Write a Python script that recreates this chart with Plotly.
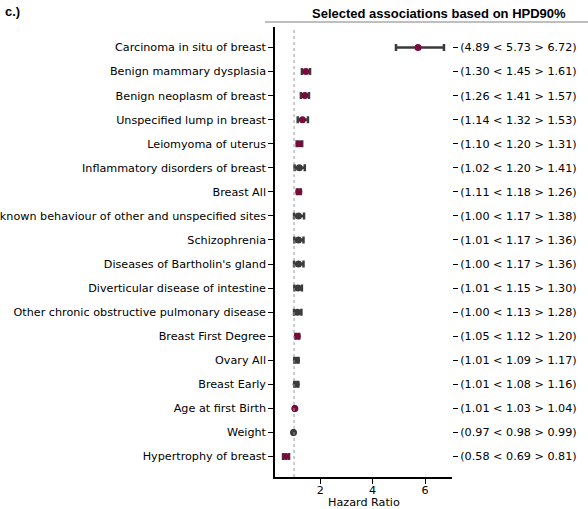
import plotly.graph_objects as go

labels = [
    "Carcinoma in situ of breast",
    "Benign mammary dysplasia",
    "Benign neoplasm of breast",
    "Unspecified lump in breast",
    "Leiomyoma of uterus",
    "Inflammatory disorders of breast",
    "Breast All",
    "Neoplasm of uncertain or unknown behaviour of other and unspecified sites",
    "Schizophrenia",
    "Diseases of Bartholin's gland",
    "Diverticular disease of intestine",
    "Other chronic obstructive pulmonary disease",
    "Breast First Degree",
    "Ovary All",
    "Breast Early",
    "Age at first Birth",
    "Weight",
    "Hypertrophy of breast",
]
lower = [4.89, 1.30, 1.26, 1.14, 1.10, 1.02, 1.11, 1.00, 1.01, 1.00, 1.01, 1.00, 1.05, 1.01, 1.01, 1.01, 0.97, 0.58]
median = [5.73, 1.45, 1.41, 1.32, 1.20, 1.20, 1.18, 1.17, 1.17, 1.17, 1.15, 1.13, 1.12, 1.09, 1.08, 1.03, 0.98, 0.69]
upper = [6.72, 1.61, 1.57, 1.53, 1.31, 1.41, 1.26, 1.38, 1.36, 1.36, 1.30, 1.28, 1.20, 1.17, 1.16, 1.04, 0.99, 0.81]
highlight = [True, True, True, True, True, False, True, False, False, False, False, False, True, False, False, True, False, True]
x_ticks = [2, 4, 6]

MAROON = "#7b0a3c"
GREY = "#3b3b3b"
FONT = "DejaVu Sans"
FS = 11.2

ypos = list(range(len(labels)))
right_text = [f"({l:.2f} < {m:.2f} > {u:.2f})" for l, m, u in zip(lower, median, upper)]

fig = go.Figure()
fig.add_trace(go.Scatter(
    x=median, y=ypos, mode="markers",
    marker=dict(size=7, color=[MAROON if h else GREY for h in highlight], line=dict(width=0)),
    error_x=dict(type="data", symmetric=False,
                 array=[u - m for u, m in zip(upper, median)],
                 arrayminus=[m - l for m, l in zip(median, lower)],
                 color=GREY, thickness=2.5, width=3.5),
    showlegend=False, hoverinfo="skip",
))
# invisible trace for right axis
fig.add_trace(go.Scatter(x=median, y=ypos, yaxis="y2", mode="markers",
                         marker=dict(opacity=0), showlegend=False, hoverinfo="skip"))

fig.add_vline(x=1, line=dict(color="#999999", width=1, dash="dot"))

yr = [len(labels) - 1 + 0.85, -0.85]
fig.update_layout(
    width=588, height=509,
    margin=dict(l=275, r=136, t=27, b=32, autoexpand=False),
    paper_bgcolor="white", plot_bgcolor="white",
    font=dict(family=FONT, size=FS, color="black"),
    xaxis=dict(range=[0.273, 7.027], tickvals=x_ticks, showgrid=False, zeroline=False,
               showline=True, linecolor="black", linewidth=1.5, ticks="outside",
               ticklen=5, tickwidth=1.2, tickcolor="black", automargin=False,
               ticklabelstandoff=-3),
    yaxis=dict(range=yr, tickvals=ypos, ticktext=labels, showgrid=False, zeroline=False,
               showline=True, linecolor="black", linewidth=1.5, ticks="outside",
               ticklen=5, tickwidth=1.2, tickcolor="black", automargin=False),
    yaxis2=dict(range=yr, tickvals=ypos, ticktext=right_text, overlaying="y", side="right",
                showgrid=False, zeroline=False, showline=False, ticks="outside",
                ticklen=5, tickwidth=1.2, tickcolor="black", automargin=False),
)

fig.add_annotation(text="Hazard Ratio", xref="paper", yref="paper",
                   x=0.5, y=(477 - 503) / 450, xanchor="center", yanchor="middle",
                   showarrow=False, font=dict(family=FONT, size=FS))
fig.add_annotation(text="<b>c.)</b>", xref="paper", yref="paper",
                   x=(3 - 275) / 177, y=(477 - 12) / 450, xanchor="left", yanchor="middle",
                   showarrow=False, font=dict(family="Liberation Sans", size=13))
fig.add_annotation(text="<b>Selected associations based on HPD90%</b>", xref="paper", yref="paper",
                   x=(439 - 275) / 177, y=(477 - 13) / 450, xanchor="center", yanchor="middle",
                   showarrow=False, font=dict(family="Liberation Sans", size=13))
fig.add_shape(type="line", xref="paper", yref="paper",
              x0=(265 - 275) / 177, x1=(588 - 275) / 177,
              y0=(477 - 22) / 450, y1=(477 - 22) / 450,
              line=dict(color="#aaaaaa", width=1.5))

fig.write_html("out.html", config={"displayModeBar": False},
               post_script="document.body.style.margin='0px';")
